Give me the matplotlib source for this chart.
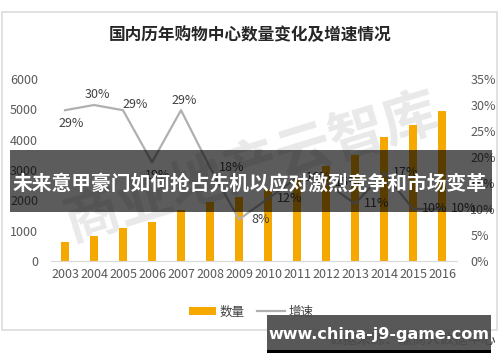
import matplotlib
matplotlib.use("Agg")
import matplotlib.pyplot as plt
from matplotlib.patches import Rectangle
from matplotlib.lines import Line2D
import numpy as np

plt.rcParams['font.family'] = ['Noto Sans CJK SC', 'DejaVu Sans']

title = "国内历年购物中心数量变化及增速情况"
years = ["2003", "2004", "2005", "2006", "2007", "2008", "2009",
         "2010", "2011", "2012", "2013", "2014", "2015", "2016"]
counts = [640, 840, 1080, 1270, 1665, 1960, 2110, 2360, 2740, 3145, 3490, 4090, 4500, 4960]
growth = [29, 30, 29, 19, 29, 18, 8, 12, 16, 15, 11, 17, 10, 10]
series_names = ["数量", "增速"]
left_ticks = [0, 1000, 2000, 3000, 4000, 5000, 6000]
right_ticks = [0, 5, 10, 15, 20, 25, 30, 35]
banner_text = "未来意甲豪门如何抢占先机以应对激烈竞争和市场变革"
site_text = "www.china-j9-game.com"
source_text = "数据来源：赢商大数据中心"
watermark_text = "商业地产云智库"

# label placement style (not data)
label_pos = ['below', 'above', 'upright', 'below', 'above', 'right', 'right',
             'right', 'right', 'right', 'right', 'right', 'right', 'right']
offsets = {'below': (6, -13), 'above': (3, 10), 'upright': (12, 6), 'right': (22, 0)}

W, H = 500, 362
fig = plt.figure(figsize=(5.0, 3.62), dpi=100)
fig.patch.set_facecolor('white')

def fx(px): return px / W
def fy(py): return 1 - py / H

# outer frame
fig.patches.append(Rectangle((fx(2), fy(330)), fx(497) - fx(2), fy(12) - fy(330),
                             transform=fig.transFigure, facecolor='white',
                             edgecolor='#dcdcdc', lw=1.2, zorder=-5))

# watermark
fig.text(fx(252), fy(168), watermark_text, fontsize=40, color='#e9e9e9',
         rotation=17, ha='center', va='center', zorder=-1, fontweight='bold')

ax = fig.add_axes([fx(50.5), fy(261), fx(456.5) - fx(50.5), fy(79) - fy(261)])
ax.set_facecolor('none')
x = np.arange(len(years))
ax.bar(x, counts, width=0.3, color='#F5A800', zorder=2)
ax.set_xlim(-0.5, len(years) - 0.5)
ax.set_ylim(0, 6000)
ax.set_yticks(left_ticks)
ax.set_xticks(x)
ax.set_xticklabels(years)
for s in ['top', 'right', 'left']:
    ax.spines[s].set_visible(False)
ax.spines['bottom'].set_color('#d9d9d9')
ax.tick_params(axis='y', length=0, pad=9, labelsize=9, labelcolor='#595959')
ax.tick_params(axis='x', length=0, pad=5, labelsize=9, labelcolor='#595959')

ax2 = ax.twinx()
ax2.set_facecolor('none')
ax2.plot(x, growth, color='#b0b0b0', lw=1.6, zorder=3)
ax2.set_ylim(0, 35)
ax2.set_yticks(right_ticks)
ax2.set_yticklabels([f"{t}%" for t in right_ticks])
for s in ['top', 'right', 'left', 'bottom']:
    ax2.spines[s].set_visible(False)
ax2.tick_params(axis='y', length=0, pad=10, labelsize=9, labelcolor='#595959')

for xi, g, p in zip(x, growth, label_pos):
    dx, dy = offsets[p]
    ax2.annotate(f"{g}%", (xi, g), xytext=(dx, dy), textcoords='offset pixels',
                 ha='center', va='center', fontsize=9, color='#404040', zorder=4)

# title
fig.text(fx(250), fy(35), title, fontsize=12, fontweight='bold', color='#262626',
         ha='center', va='center')

# legend
handles = [Rectangle((0, 0), 1, 1, facecolor='#F5A800'),
           Line2D([0], [0], color='#b0b0b0', lw=1.6)]
fig.legend(handles, series_names, loc='center', bbox_to_anchor=(fx(251), fy(312)),
           ncol=2, frameon=False, fontsize=9, handlelength=2.2, handleheight=0.6,
           columnspacing=1.0, handletextpad=0.3, labelcolor='#404040')

# banner overlay
fig.patches.append(Rectangle((fx(10), fy(212)), fx(492) - fx(10), fy(150) - fy(212),
                             transform=fig.transFigure, facecolor='black', alpha=0.64,
                             edgecolor='none', zorder=10))
fig.text(fx(250), fy(184), banner_text, fontsize=14.2, fontweight='bold', color='white',
         ha='center', va='center', zorder=11)

# source text and site overlay
fig.text(fx(496), fy(340), source_text, fontsize=10, color='#333333',
         ha='right', va='center', zorder=5)
fig.patches.append(Rectangle((fx(267), fy(350)), fx(491) - fx(267), fy(315) - fy(350),
                             transform=fig.transFigure, facecolor='#4a4a4a', alpha=0.92,
                             edgecolor='none', zorder=10))
fig.patches.append(Rectangle((fx(267), fy(352.5)), fx(491) - fx(267), fy(350) - fy(352.5),
                             transform=fig.transFigure, facecolor='black',
                             edgecolor='none', zorder=10))
fig.text(fx(379), fy(334), site_text, fontsize=11.5, fontweight='bold', color='white',
         ha='center', va='center', zorder=11, family='DejaVu Sans')

fig.savefig("out.png", dpi=100)
